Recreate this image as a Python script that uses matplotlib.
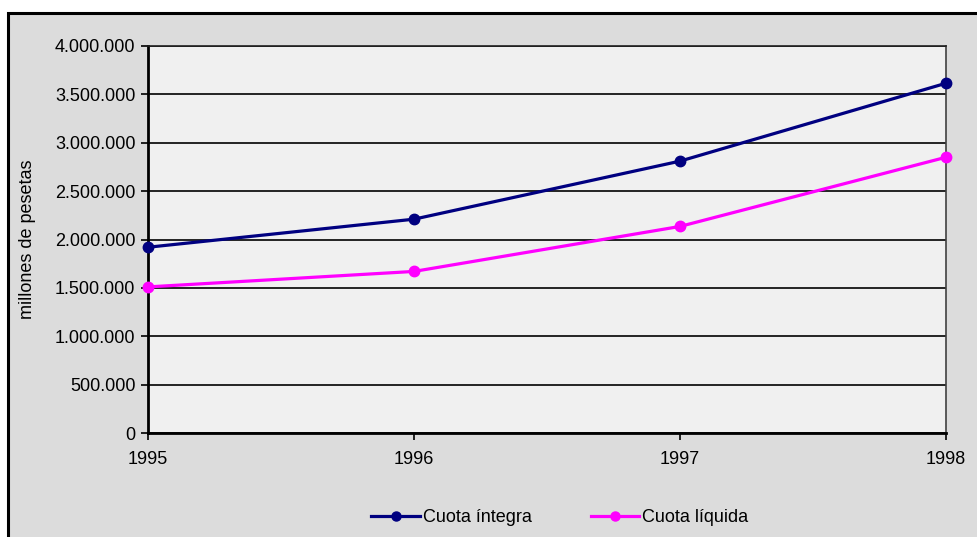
import matplotlib
matplotlib.use("Agg")
import matplotlib.pyplot as plt
from matplotlib.patches import Rectangle
from matplotlib.lines import Line2D
from matplotlib.ticker import FuncFormatter

plt.rcParams['font.family'] = ['Liberation Sans', 'DejaVu Sans']

years = ["1995", "1996", "1997", "1998"]
cuota_integra = [1920000, 2210000, 2810000, 3615000]
cuota_liquida = [1510000, 1670000, 2135000, 2850000]
series_names = ["Cuota íntegra", "Cuota líquida"]
y_ticks = [0, 500000, 1000000, 1500000, 2000000, 2500000, 3000000, 3500000, 4000000]

W, H = 978, 537
FS = 13
fig = plt.figure(figsize=(W / 100, H / 100), dpi=100)
fig.patch.set_facecolor("white")

# background axes carrying the outer grey panel with black border
bg = fig.add_axes([0, 0, 1, 1], zorder=0)
bg.set_axis_off()
bg.set_xlim(0, W)
bg.set_ylim(H, 0)
bg.add_patch(Rectangle((8, 13), W + 20, H + 20, facecolor="#dcdcdc",
                       edgecolor="black", linewidth=2.2))

left, right, top, bottom = 148, 946, 46, 433
ax = fig.add_axes([left / W, 1 - bottom / H, (right - left) / W, (bottom - top) / H], zorder=1)
ax.set_facecolor("#f0f0f0")

x = list(range(len(years)))
LW, MS = 2.3, 7.5
ax.plot(x, cuota_integra, color="#000080", lw=LW, marker="o", ms=MS, clip_on=False, zorder=3)
ax.plot(x, cuota_liquida, color="#ff00ff", lw=LW, marker="o", ms=MS, clip_on=False, zorder=3)

ax.set_xlim(0, 3)
ax.set_ylim(0, 4000000)
ax.set_xticks(x)
ax.set_xticklabels(years)
ax.set_yticks(y_ticks)
ax.yaxis.set_major_formatter(FuncFormatter(lambda v, p: f"{int(v):,}".replace(",", ".")))
ax.yaxis.grid(True, color="black", lw=1.2)
ax.set_axisbelow(True)
ax.tick_params(axis="both", labelsize=FS, length=5, width=1.2, color="black")
ax.tick_params(axis="x", pad=8)
ax.tick_params(axis="y", pad=4)
for s in ["left", "bottom"]:
    ax.spines[s].set_linewidth(2)
ax.spines["top"].set_linewidth(1.2)
ax.spines["right"].set_linewidth(1.2)
ax.spines["right"].set_color("#404040")
ax.spines["top"].set_color("#202020")

ax.set_ylabel("millones de pesetas", fontsize=FS, labelpad=14)

handles = [Line2D([], [], color="#000080", lw=LW, marker="o", ms=6.5),
           Line2D([], [], color="#ff00ff", lw=LW, marker="o", ms=6.5)]
fig.legend(handles, series_names, loc="center", bbox_to_anchor=(560 / W, 1 - 518 / H),
           ncol=2, frameon=False, fontsize=FS, handlelength=2.67, handletextpad=0.17,
           columnspacing=3.3)

fig.savefig("out.png", dpi=100)
